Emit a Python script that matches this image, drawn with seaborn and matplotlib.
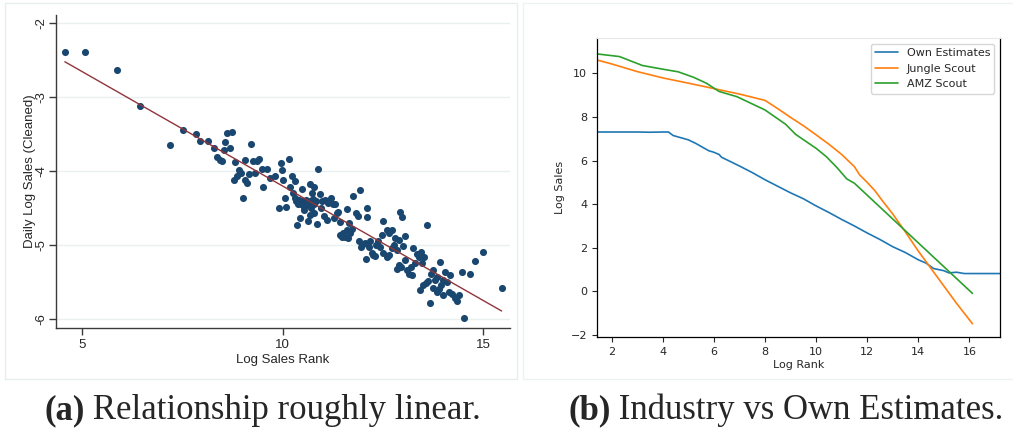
import matplotlib
matplotlib.use("Agg")
import matplotlib.pyplot as plt
from matplotlib.patches import Rectangle
from matplotlib.ticker import FuncFormatter
import seaborn as sns

# panel (a): points
log_rank = [4.57, 5.07, 5.86, 6.44, 7.20, 7.51, 7.85, 7.95, 8.14, 8.29, 8.37, 8.44, 8.50, 8.57, 8.61, 8.74, 8.68, 8.53, 8.80, 9.07, 9.21,
            8.78, 8.86, 8.91, 8.96, 9.01, 9.06, 9.12, 9.17, 9.27, 9.36, 9.40, 9.31, 9.52, 9.49, 9.60, 9.69, 9.82,
            9.96, 9.99, 10.02, 10.15, 9.90, 10.06, 10.09, 10.19, 10.23, 10.31, 10.27, 10.30, 10.34, 10.38, 10.42, 10.46, 10.50, 10.54,
            10.59, 10.63, 10.67, 10.71, 10.75, 10.79, 10.83, 10.49, 10.67, 10.77, 10.73, 10.89, 10.35, 10.44, 10.63, 10.85, 10.77, 10.54, 10.68,
            10.93, 10.98, 11.06, 11.14, 11.20, 11.25, 11.31, 11.35, 11.27, 11.10, 11.02, 10.95, 11.39, 11.43, 11.47, 11.51, 11.56, 11.60,
            11.64, 11.68, 11.72, 11.60, 11.75, 11.93, 11.83, 11.89, 12.10, 12.11, 11.43, 11.66,
            11.90, 11.97, 12.05, 11.95, 12.18, 12.15, 12.07, 12.26, 12.30, 12.23, 12.33, 12.39, 12.47, 12.49, 12.59, 12.64, 12.73, 12.43,
            12.51, 12.59, 12.66, 12.73, 12.78, 12.81, 12.84, 12.93, 12.98, 13.05, 13.01, 12.89,
            12.84, 12.89, 12.94, 13.05, 13.09, 13.14, 13.19, 13.26, 13.34, 13.39, 13.44, 13.52, 13.61, 13.47, 13.30, 13.22,
            13.42, 13.51, 13.57, 13.63, 13.69, 13.76, 13.80, 13.85, 13.92, 14.00, 13.96, 14.09, 14.17, 14.05, 14.14, 13.99, 13.84, 13.67, 13.76, 13.90,
            14.22, 14.30, 14.34, 14.39, 14.46, 14.67, 14.80, 15.00, 15.46, 14.52]
log_sales = [-2.39, -2.39, -2.63, -3.12, -3.65, -3.44, -3.50, -3.59, -3.59, -3.69, -3.81, -3.85, -3.87, -3.60, -3.48, -3.47, -3.69, -3.72, -3.88, -3.85, -3.64,
             -4.12, -4.06, -3.98, -4.02, -4.36, -4.12, -4.16, -4.04, -3.86, -3.87, -3.83, -4.03, -4.22, -3.97, -3.97, -4.09, -4.06,
             -3.89, -3.98, -4.12, -3.83, -4.50, -4.37, -4.48, -4.21, -4.07, -4.14, -4.30, -4.36, -4.41, -4.45, -4.39, -4.44, -4.41, -4.48,
             -4.39, -4.45, -4.41, -4.50, -4.38, -4.44, -4.41, -4.24, -4.18, -4.21, -4.30, -3.97, -4.73, -4.64, -4.67, -4.72, -4.57, -4.53, -4.59,
             -4.31, -4.41, -4.39, -4.43, -4.37, -4.45, -4.44, -4.57, -4.64, -4.66, -4.61, -4.50, -4.55, -4.86, -4.89, -4.84, -4.89, -4.79,
             -4.91, -4.84, -4.78, -4.51, -4.34, -4.26, -4.57, -4.60, -4.50, -4.62, -4.69, -4.70,
             -4.94, -5.00, -4.97, -5.02, -4.94, -5.02, -5.19, -5.14, -5.15, -5.11, -5.00, -4.95, -4.86, -4.68, -4.79, -4.84, -4.79, -5.03,
             -5.10, -5.16, -5.14, -5.04, -5.00, -4.91, -5.06, -4.55, -4.62, -4.88, -5.01, -4.93,
             -5.32, -5.27, -5.29, -5.20, -5.34, -5.39, -5.29, -5.04, -5.12, -5.16, -5.09, -5.16, -4.73, -5.24, -5.24, -5.41,
             -5.60, -5.54, -5.51, -5.48, -5.39, -5.33, -5.47, -5.43, -5.23, -5.47, -5.54, -5.50, -5.41, -5.36, -5.63, -5.67, -5.64, -5.78, -5.58, -5.59,
             -5.66, -5.72, -5.76, -5.68, -5.37, -5.39, -5.21, -5.09, -5.58, -5.98]

# panel (b): the three estimate curves
own_x = [1.42, 2.0, 3.0, 3.5, 4.0, 4.22, 4.4, 4.7, 5.0, 5.3, 5.6, 5.8, 6.0, 6.2, 6.3, 6.6, 7.0, 7.5, 8.0, 8.5, 9.0, 9.5,
         10.0, 10.5, 11.0, 11.5, 12.0, 12.5, 13.0, 13.5, 14.0, 14.3, 14.6, 15.0, 15.2, 15.5, 15.8, 16.5, 17.2]
own_y = [7.31, 7.31, 7.31, 7.30, 7.31, 7.31, 7.15, 7.05, 6.95, 6.78, 6.58, 6.45, 6.38, 6.28, 6.15, 5.98, 5.75, 5.45, 5.12, 4.82, 4.52, 4.25,
         3.92, 3.62, 3.30, 3.00, 2.68, 2.38, 2.05, 1.78, 1.45, 1.30, 1.05, 0.95, 0.85, 0.88, 0.82, 0.82, 0.82]
jungle_x = [1.43, 2.0, 3.0, 4.0, 5.0, 6.0, 7.0, 8.0, 8.5, 9.0, 9.5, 10.0, 10.5, 11.0, 11.5, 11.7, 12.0, 12.3, 12.6, 13.0,
            13.5, 14.0, 14.5, 15.0, 15.5, 16.12]
jungle_y = [10.61, 10.43, 10.08, 9.79, 9.55, 9.30, 9.05, 8.76, 8.38, 7.98, 7.60, 7.18, 6.75, 6.28, 5.72, 5.35, 5.00, 4.62, 4.15, 3.55,
            2.72, 1.85, 1.05, 0.25, -0.55, -1.48]
amz_x = [1.43, 2.3, 3.2, 4.0, 4.6, 5.2, 5.7, 6.2, 6.9, 8.0, 8.8, 9.2, 10.0, 10.4, 10.8, 11.2, 11.5, 16.12]
amz_y = [10.89, 10.77, 10.36, 10.19, 10.07, 9.82, 9.55, 9.17, 8.93, 8.32, 7.67, 7.20, 6.56, 6.18, 5.70, 5.16, 4.96, -0.09]

sns.set_style("ticks")
plt.rcParams["font.family"] = ["DejaVu Sans"]

fig = plt.figure(figsize=(10.13, 4.33), dpi=100)

# light outlines of the two source images
fig.patches.append(Rectangle((5 / 1013, 1 - 379 / 433), 512 / 1013, 376 / 433, transform=fig.transFigure,
                             fill=False, edgecolor="#e6edef", lw=1))
fig.patches.append(Rectangle((523 / 1013, 1 - 379 / 433), 495 / 1013, 376 / 433, transform=fig.transFigure,
                             fill=False, edgecolor="#eef2f3", lw=1))

# ---- (a) Stata style scatter with linear fit
ax1 = fig.add_axes([0.0553, 0.2425, 0.4482, 0.7229])
sns.regplot(x=log_rank, y=log_sales, ax=ax1, ci=None,
            scatter_kws={"s": 26, "color": "#1a476f", "linewidths": 0, "alpha": 1},
            line_kws={"color": "#90353b", "lw": 1.0})
ax1.set_xlim(4.35, 15.67)
ax1.set_ylim(-6.12, -1.89)
ax1.set_xticks([5, 10, 15])
ax1.set_yticks([-6, -5, -4, -3, -2])
ax1.yaxis.set_major_formatter(FuncFormatter(lambda v, _: f"{v:g}"))
ax1.yaxis.grid(True, color="#e8f0f2", lw=1)
ax1.set_axisbelow(True)
for s in ["top", "right"]:
    ax1.spines[s].set_visible(False)
for s in ["left", "bottom"]:
    ax1.spines[s].set_color("#3a3a3a")
    ax1.spines[s].set_linewidth(1.0)
ax1.tick_params(direction="out", length=5, width=1, color="#3a3a3a", labelsize=9.5, pad=3)
ax1.tick_params(axis="y", pad=1.5)
for lab in ax1.get_yticklabels():
    lab.set_rotation(90)
    lab.set_va("center")
for lab in ax1.get_xticklabels() + ax1.get_yticklabels():
    lab.set_family("Liberation Sans")
ax1.set_xlabel("Log Sales Rank", family="Liberation Sans", fontsize=9.5, labelpad=2)
ax1.set_ylabel("Daily Log Sales (Cleaned)", family="Liberation Sans", fontsize=9.5, labelpad=-1)

# ---- (b) industry vs own estimates
ax2 = fig.add_axes([0.5893, 0.2217, 0.3979, 0.6905])
sns.lineplot(x=own_x, y=own_y, ax=ax2, color="#1f77b4", lw=1.2, label="Own Estimates", estimator=None)
sns.lineplot(x=jungle_x, y=jungle_y, ax=ax2, color="#ff7f0e", lw=1.2, label="Jungle Scout", estimator=None)
sns.lineplot(x=amz_x, y=amz_y, ax=ax2, color="#2ca02c", lw=1.2, label="AMZ Scout", estimator=None)
ax2.set_xlim(1.42, 17.2)
ax2.set_ylim(-2.09, 11.62)
ax2.set_xticks(range(2, 17, 2))
ax2.set_yticks(range(-2, 11, 2))
for s in ["left", "bottom", "right"]:
    ax2.spines[s].set_color("black")
    ax2.spines[s].set_linewidth(0.9)
ax2.spines["top"].set_color("#e8e8e8")
ax2.tick_params(direction="out", length=3.5, width=0.8, labelsize=8)
ax2.set_xlabel("Log Rank", fontsize=8, labelpad=2)
ax2.set_ylabel("Log Sales", fontsize=8)
ax2.legend(loc="upper right", fontsize=8, frameon=True, fancybox=True, edgecolor="#cccccc")

# ---- subfigure captions
cap_kw = {"family": "Liberation Serif", "fontsize": 25, "va": "baseline"}
ta = fig.text(44 / 1013, 1 - 419 / 433, "(a)", weight="bold", **cap_kw)
ax1.annotate(" Relationship roughly linear.", xy=(1, 0), xycoords=ta, annotation_clip=False,
             family="Liberation Serif", fontsize=25, va="bottom")
tb = fig.text(568 / 1013, 1 - 419 / 433, "(b)", weight="bold", **cap_kw)
ax2.annotate(" Industry vs Own Estimates.", xy=(1, 0), xycoords=tb, annotation_clip=False,
             family="Liberation Serif", fontsize=25, va="bottom")

fig.savefig("out.png", dpi=100)
